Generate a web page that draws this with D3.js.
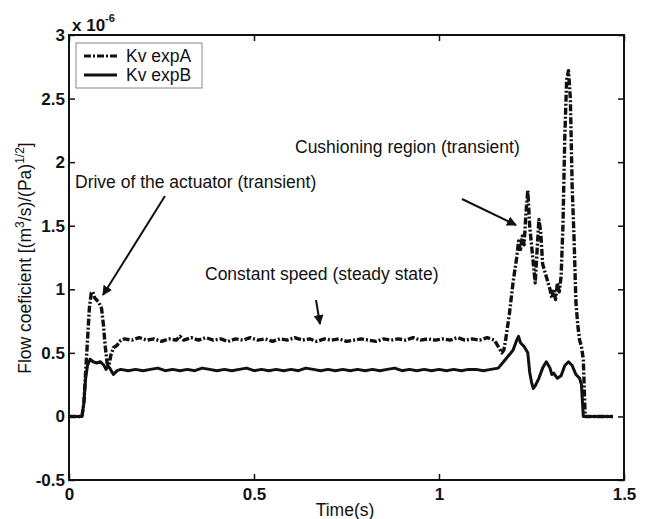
<!DOCTYPE html>
<html>
<head>
<meta charset="UTF-8">
<title>Flow coefficient</title>
<script src="https://cdn.jsdelivr.net/npm/d3@7"></script>
<style>
  body { margin: 0; background: #fff; }
  text { font-family: "Liberation Sans", Arial, sans-serif; fill: #111; }
</style>
</head>
<body>
<svg id="chart" width="658" height="519"></svg>
<script>
// tick values
var xTicks = [0, 0.5, 1, 1.5];
var yTicks = [-0.5, 0, 0.5, 1, 1.5, 2, 2.5, 3];

// Kv expA  [time (s), Kv (x1e-6)]
var kvExpA = [
  [0, 0], [0.035, 0], [0.04, 0.1], [0.045, 0.35], [0.05, 0.6], [0.055, 0.85], [0.06, 0.97],
  [0.064, 0.98], [0.07, 0.93], [0.08, 0.9], [0.088, 0.85], [0.093, 0.72], [0.098, 0.55],
  [0.103, 0.42], [0.108, 0.4], [0.113, 0.48], [0.12, 0.54], [0.13, 0.56], [0.14, 0.6],
  [0.15, 0.61], [0.17, 0.6], [0.19, 0.62], [0.21, 0.6], [0.23, 0.61], [0.25, 0.59],
  [0.27, 0.61], [0.29, 0.6], [0.3, 0.63], [0.31, 0.6], [0.33, 0.62], [0.35, 0.6],
  [0.37, 0.62], [0.39, 0.6], [0.41, 0.61], [0.43, 0.59], [0.45, 0.61], [0.47, 0.6],
  [0.49, 0.62], [0.51, 0.6], [0.53, 0.61], [0.55, 0.59], [0.57, 0.61], [0.59, 0.6],
  [0.61, 0.62], [0.63, 0.6], [0.65, 0.61], [0.67, 0.59], [0.69, 0.61], [0.71, 0.6],
  [0.73, 0.61], [0.75, 0.59], [0.77, 0.6], [0.79, 0.61], [0.81, 0.6], [0.83, 0.59],
  [0.85, 0.61], [0.87, 0.6], [0.89, 0.61], [0.91, 0.6], [0.93, 0.62], [0.95, 0.6],
  [0.97, 0.61], [0.99, 0.6], [1.01, 0.61], [1.03, 0.6], [1.05, 0.62], [1.07, 0.6],
  [1.09, 0.61], [1.11, 0.6], [1.13, 0.62], [1.15, 0.6], [1.16, 0.55], [1.17, 0.5],
  [1.175, 0.52], [1.18, 0.6], [1.19, 0.8], [1.2, 1.05], [1.21, 1.25], [1.215, 1.38],
  [1.22, 1.3], [1.225, 1.42], [1.23, 1.35], [1.235, 1.6], [1.24, 1.78], [1.245, 1.5],
  [1.25, 1.35], [1.255, 1.2], [1.26, 1.05], [1.265, 1.3], [1.27, 1.55], [1.275, 1.45],
  [1.28, 1.2], [1.29, 1.1], [1.3, 1.0], [1.305, 0.93], [1.31, 1.0], [1.315, 0.92],
  [1.32, 1.05], [1.325, 0.98], [1.33, 1.1], [1.335, 1.5], [1.34, 2.2], [1.345, 2.65],
  [1.35, 2.72], [1.355, 2.5], [1.36, 1.8], [1.365, 1.4], [1.37, 0.9], [1.375, 0.72],
  [1.38, 0.6], [1.385, 0.55], [1.39, 0.45], [1.395, 0], [1.47, 0]
];

// Kv expB
var kvExpB = [
  [0, 0], [0.035, 0], [0.04, 0.1], [0.045, 0.3], [0.05, 0.4], [0.057, 0.45], [0.065, 0.43],
  [0.075, 0.42], [0.085, 0.43], [0.095, 0.4], [0.1, 0.37], [0.105, 0.4], [0.11, 0.38],
  [0.12, 0.33], [0.13, 0.36], [0.14, 0.37], [0.16, 0.36], [0.18, 0.37], [0.2, 0.36],
  [0.22, 0.37], [0.24, 0.38], [0.26, 0.36], [0.28, 0.37], [0.3, 0.36], [0.32, 0.37],
  [0.34, 0.36], [0.36, 0.38], [0.38, 0.37], [0.4, 0.36], [0.42, 0.37], [0.44, 0.36],
  [0.46, 0.37], [0.48, 0.38], [0.5, 0.36], [0.52, 0.37], [0.54, 0.36], [0.56, 0.37],
  [0.58, 0.36], [0.6, 0.37], [0.62, 0.36], [0.64, 0.38], [0.66, 0.37], [0.68, 0.36],
  [0.7, 0.37], [0.72, 0.36], [0.74, 0.37], [0.76, 0.36], [0.78, 0.37], [0.8, 0.36],
  [0.82, 0.37], [0.84, 0.36], [0.86, 0.37], [0.88, 0.38], [0.9, 0.36], [0.92, 0.37],
  [0.94, 0.36], [0.96, 0.37], [0.98, 0.36], [1.0, 0.37], [1.02, 0.36], [1.04, 0.37],
  [1.06, 0.36], [1.08, 0.37], [1.1, 0.37], [1.12, 0.36], [1.14, 0.37], [1.16, 0.38],
  [1.18, 0.45], [1.2, 0.52], [1.21, 0.6], [1.215, 0.63], [1.22, 0.58], [1.23, 0.55],
  [1.24, 0.5], [1.245, 0.35], [1.25, 0.27], [1.255, 0.22], [1.26, 0.24], [1.27, 0.3],
  [1.28, 0.38], [1.29, 0.43], [1.3, 0.38], [1.305, 0.33], [1.31, 0.34], [1.32, 0.3],
  [1.33, 0.32], [1.34, 0.4], [1.35, 0.43], [1.36, 0.4], [1.37, 0.33], [1.38, 0.3],
  [1.385, 0.25], [1.39, 0], [1.47, 0]
];

var svg = d3.select("#chart");
var plotL = 69, plotR = 624, plotT = 35, plotB = 480;
var fs = "17.5px";

var x = d3.scaleLinear().domain([0, 1.5]).range([plotL, plotR]);
var y = d3.scaleLinear().domain([-0.5, 3]).range([plotB, plotT]);

var fmt = function (d) { return String(d); };

// axes with inward ticks on all four sides
svg.append("g").attr("transform", "translate(0," + plotB + ")")
  .call(d3.axisBottom(x).tickValues(xTicks).tickSizeInner(-6).tickSizeOuter(0).tickPadding(8).tickFormat(fmt));
svg.append("g").attr("transform", "translate(0," + plotT + ")")
  .call(d3.axisTop(x).tickValues(xTicks).tickSizeInner(-6).tickSizeOuter(0).tickFormat(""));
svg.append("g").attr("transform", "translate(" + plotL + ",0)")
  .call(d3.axisLeft(y).tickValues(yTicks).tickSizeInner(-6).tickSizeOuter(0).tickPadding(4).tickFormat(fmt));
svg.append("g").attr("transform", "translate(" + plotR + ",0)")
  .call(d3.axisRight(y).tickValues(yTicks).tickSizeInner(-6).tickSizeOuter(0).tickFormat(""));

svg.selectAll(".domain").remove();
svg.selectAll(".tick line").attr("stroke", "#111").attr("stroke-width", 1.5);
svg.selectAll(".tick text").style("font-size", "17px").style("font-weight", "bold")
  .style("font-family", "'Liberation Sans', Arial, sans-serif").attr("fill", "#111");

// frame
svg.append("rect").attr("x", plotL).attr("y", plotT)
  .attr("width", plotR - plotL).attr("height", plotB - plotT)
  .attr("fill", "none").attr("stroke", "#111").attr("stroke-width", 2);

// lines
var line = d3.line().x(function (d) { return x(d[0]); }).y(function (d) { return y(d[1]); });

svg.append("path").datum(kvExpA).attr("d", line)
  .attr("fill", "none").attr("stroke", "#111").attr("stroke-width", 3.4)
  .attr("stroke-dasharray", "7,2,2,2").attr("stroke-linejoin", "round");
svg.append("path").datum(kvExpB).attr("d", line)
  .attr("fill", "none").attr("stroke", "#111").attr("stroke-width", 3)
  .attr("stroke-linejoin", "round");

// exponent label
var expo = svg.append("text").attr("x", 72).attr("y", 31).style("font-size", "17px").style("font-weight", "bold");
expo.append("tspan").text("x 10");
expo.append("tspan").attr("dy", -9).style("font-size", "11px").text("-6");

// legend
var lg = svg.append("g");
lg.append("rect").attr("x", 76).attr("y", 43).attr("width", 126).attr("height", 45)
  .attr("fill", "#fff").attr("stroke", "#888").attr("stroke-width", 1);
lg.append("line").attr("x1", 84).attr("x2", 117).attr("y1", 56).attr("y2", 56)
  .attr("stroke", "#111").attr("stroke-width", 3).attr("stroke-dasharray", "7,2,2,2");
lg.append("line").attr("x1", 84).attr("x2", 117).attr("y1", 75).attr("y2", 75)
  .attr("stroke", "#111").attr("stroke-width", 3);
lg.append("text").attr("x", 126).attr("y", 62).style("font-size", fs).text("Kv expA");
lg.append("text").attr("x", 126).attr("y", 81).style("font-size", fs).text("Kv expB");

// axis labels
svg.append("text").attr("x", 345).attr("y", 516).attr("text-anchor", "middle")
  .style("font-size", fs).text("Time(s)");

var yl = svg.append("text").attr("transform", "translate(31,258) rotate(-90)")
  .attr("text-anchor", "middle").style("font-size", fs);
yl.append("tspan").text("Flow coeficient [(m");
yl.append("tspan").attr("dy", -7).style("font-size", "12px").text("3");
yl.append("tspan").attr("dy", 7).text("/s)/(Pa)");
yl.append("tspan").attr("dy", -7).style("font-size", "12px").text("1/2");
yl.append("tspan").attr("dy", 7).text("]");

// annotations
svg.append("defs").append("marker").attr("id", "arrow")
  .attr("viewBox", "0 0 10 10").attr("refX", 9).attr("refY", 5)
  .attr("markerWidth", 5).attr("markerHeight", 5).attr("orient", "auto")
  .append("path").attr("d", "M0,0 L10,5 L0,10 Z").attr("fill", "#111");

var notes = [
  { text: "Drive of the actuator (transient)", tx: 75, ty: 188, x1: 165, y1: 196, x2: 103, y2: 295 },
  { text: "Constant speed (steady state)", tx: 205, ty: 280, x1: 316, y1: 300, x2: 320, y2: 324 },
  { text: "Cushioning region (transient)", tx: 295, ty: 153, x1: 462, y1: 199, x2: 516, y2: 225 }
];
notes.forEach(function (n) {
  svg.append("text").attr("x", n.tx).attr("y", n.ty).style("font-size", fs).text(n.text);
  svg.append("line").attr("x1", n.x1).attr("y1", n.y1).attr("x2", n.x2).attr("y2", n.y2)
    .attr("stroke", "#111").attr("stroke-width", 2).attr("marker-end", "url(#arrow)");
});
</script>
</body>
</html>
